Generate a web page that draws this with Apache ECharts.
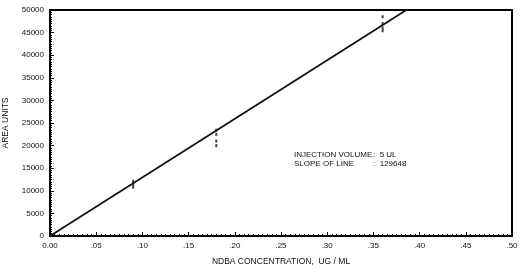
<!DOCTYPE html>
<html><head><meta charset="utf-8">
<script src="https://cdn.jsdelivr.net/npm/echarts@6/dist/echarts.min.js"></script>
<style>html,body{margin:0;padding:0;background:#fff}#c{width:525px;height:272px}</style>
</head><body><div id="c"></div>
<script>
const xTicks = [0, 0.05, 0.10, 0.15, 0.20, 0.25, 0.30, 0.35, 0.40, 0.45, 0.50];
const yTicks = [0, 5000, 10000, 15000, 20000, 25000, 30000, 35000, 40000, 45000, 50000];
const slope = 129648;
const lineX = [0, 0.3857];
const lineY = [0, 50000];
const sampleX = [0.09, 0.09, 0.09, 0.18, 0.18, 0.18, 0.18, 0.36, 0.36, 0.36, 0.36];
const sampleY = [10800, 11400, 12100, 23400, 22500, 21000, 20000, 48500, 47000, 46000, 45400];
const annotLabels = ['INJECTION VOLUME', 'SLOPE OF LINE'];
const annotValues = ['5 UL', String(slope)];

const chart = echarts.init(document.getElementById('c'), null, {renderer: 'canvas'});
const font = 'Liberation Sans, Arial, sans-serif';
chart.setOption({
  animation: false,
  grid: {left: 50, right: 13, top: 10, bottom: 36, show: true, borderColor: '#000', borderWidth: 2,
    outerBoundsMode: 'none', containLabel: false},
  xAxis: {
    type: 'value', min: 0, max: 0.5, interval: 0.05,
    name: 'NDBA CONCENTRATION,  UG / ML', nameLocation: 'middle', nameGap: 21,
    nameTextStyle: {fontFamily: font, fontSize: 8.5, color: '#111'},
    axisLine: {lineStyle: {color: '#000', width: 2}},
    axisTick: {inside: true, length: 4, lineStyle: {color: '#000'}},
    minorTick: {show: true, splitNumber: 10, length: 2, lineStyle: {color: '#000'}},
    splitLine: {show: false},
    axisLabel: {fontFamily: font, fontSize: 8, color: '#111', margin: 6,
      formatter: v => { const i = xTicks.findIndex(t => Math.abs(t - v) < 1e-9); return i === 0 ? '0.00' : v.toFixed(2).replace(/^0/, ''); }}
  },
  yAxis: {
    type: 'value', min: 0, max: 50000, interval: 5000,
    name: 'AREA UNITS', nameLocation: 'middle', nameGap: 40,
    nameTextStyle: {fontFamily: font, fontSize: 8.5, color: '#111'},
    axisLine: {show: true, lineStyle: {color: '#000', width: 2}},
    axisTick: {show: true, inside: true, length: 4, lineStyle: {color: '#000'}},
    minorTick: {show: true, splitNumber: 10, length: 2, lineStyle: {color: '#000'}},
    splitLine: {show: false},
    axisLabel: {fontFamily: font, fontSize: 8, color: '#111', margin: 6,
      formatter: v => { const i = yTicks.indexOf(v); return i >= 0 ? String(yTicks[i]) : ''; }}
  },
  series: [
    {type: 'line', data: lineX.map((x, i) => [x, lineY[i]]), symbol: 'none',
      lineStyle: {color: '#111', width: 1.8}, clip: true},
    {type: 'scatter', data: sampleX.map((x, i) => [x, sampleY[i]]), symbol: 'rect',
      symbolSize: [2, 3], itemStyle: {color: '#111'}}
  ],
  graphic: [
    {type: 'text', left: 294, top: 151, style: {text: annotLabels[0], font: '8px ' + font, fill: '#111'}},
    {type: 'text', left: 294, top: 160, style: {text: annotLabels[1], font: '8px ' + font, fill: '#111'}},
    {type: 'text', left: 373, top: 151, style: {text: ':  ' + annotValues[0], font: '8px ' + font, fill: '#111'}},
    {type: 'text', left: 373, top: 160, style: {text: ':  ' + annotValues[1], font: '8px ' + font, fill: '#111'}}
  ]
});
</script></body></html>
